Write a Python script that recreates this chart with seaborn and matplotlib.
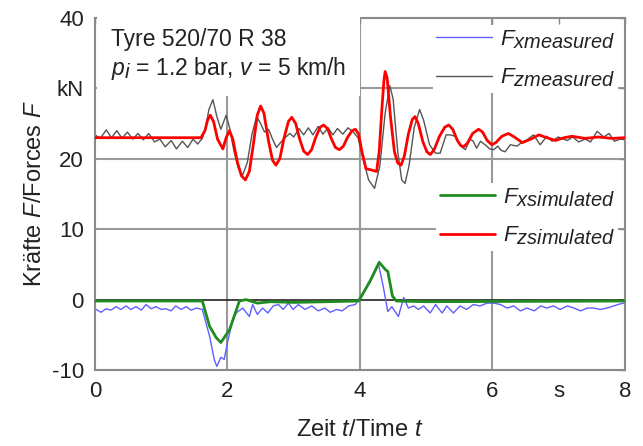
import numpy as np
import pandas as pd
import seaborn as sns
import matplotlib.pyplot as plt
import matplotlib._mathtext as mathtext_internal

t_fxm = [0.00, 0.09, 0.17, 0.24, 0.32, 0.39, 0.47, 0.54, 0.62, 0.70, 0.77, 0.85, 0.92, 1.00,
         1.07, 1.15, 1.22, 1.30, 1.38, 1.45, 1.53, 1.62, 1.73, 1.80, 1.84, 1.90, 1.95, 2.00,
         2.08, 2.13, 2.23, 2.33, 2.38, 2.45, 2.53, 2.61, 2.69, 2.77, 2.84, 2.92, 2.99, 3.07,
         3.17, 3.27, 3.37, 3.47, 3.55, 3.65, 3.73, 3.83, 3.93, 3.98, 4.15, 4.28, 4.35, 4.42,
         4.48, 4.58, 4.66, 4.73, 4.81, 4.88, 4.96, 5.06, 5.14, 5.24, 5.31, 5.41, 5.51, 5.61,
         5.71, 5.81, 5.92, 6.02, 6.12, 6.22, 6.32, 6.42, 6.52, 6.63, 6.73, 6.82, 6.92, 7.02,
         7.13, 7.23, 7.33, 7.43, 7.53, 7.63, 7.73, 7.83, 7.93, 8.00]
fxm = [-1.3, -1.8, -1.3, -1.5, -1.0, -1.4, -0.9, -1.4, -1.0, -1.5, -0.7, -1.3, -1.0, -1.4,
       -1.3, -1.6, -0.9, -1.4, -1.0, -1.5, -1.2, -1.4, -5.2, -8.5, -9.5, -8.2, -8.5, -6.1,
       -2.8, -1.9, -1.2, -2.4, -0.7, -2.1, -1.2, -1.9, -0.9, -0.7, -1.4, -0.5, -1.4, -0.7,
       -1.4, -0.9, -1.6, -1.2, -1.8, -1.4, -1.6, -0.9, -0.7, 0.0, 2.4, 5.0, 1.9, -1.7,
       -1.0, -2.4, 0.3, -1.2, -0.9, -1.4, -0.9, -1.9, -0.7, -1.9, -0.9, -1.9, -0.9, -1.4,
       -0.7, -0.9, -0.5, -0.5, -0.7, -1.2, -0.9, -1.6, -1.2, -1.6, -0.9, -1.2, -0.9, -1.4,
       -0.9, -1.2, -1.6, -1.2, -1.2, -1.4, -1.2, -0.9, -0.6, -0.5]

# Fz measured (grey)
t_fzm = [0.00, 0.08, 0.17, 0.25, 0.33, 0.41, 0.49, 0.57, 0.65, 0.73, 0.81, 0.90, 0.98, 1.06,
         1.15, 1.23, 1.32, 1.40, 1.48, 1.55, 1.62, 1.67, 1.72, 1.78, 1.84, 1.90, 1.98, 2.03,
         2.10, 2.17, 2.23, 2.30, 2.37, 2.44, 2.50, 2.56, 2.62, 2.68, 2.74, 2.80, 2.87, 2.94,
         3.00, 3.08, 3.15, 3.22, 3.29, 3.37, 3.44, 3.52, 3.59, 3.66, 3.74, 3.82, 3.90, 3.97,
         4.05, 4.13, 4.22, 4.30, 4.38, 4.45, 4.50, 4.57, 4.63, 4.68, 4.74, 4.82, 4.90, 4.96,
         5.05, 5.14, 5.21, 5.30, 5.36, 5.44, 5.52, 5.59, 5.66, 5.71, 5.76, 5.82, 5.90, 5.96,
         6.02, 6.08, 6.13, 6.19, 6.27, 6.37, 6.45, 6.52, 6.62, 6.72, 6.82, 6.90, 6.99, 7.13,
         7.21, 7.30, 7.40, 7.48, 7.58, 7.68, 7.76, 7.84, 7.93, 8.00]
fzm = [23.4, 22.9, 24.1, 23.0, 24.0, 22.9, 23.8, 22.8, 23.6, 22.7, 23.6, 22.4, 22.8, 21.7,
       22.6, 21.4, 22.5, 21.6, 22.8, 22.1, 22.9, 24.5, 27.0, 28.4, 26.0, 24.2, 26.2, 24.5,
       21.0, 18.5, 17.7, 19.5, 23.5, 26.0, 25.0, 23.8, 24.2, 22.8, 21.6, 22.3, 23.0, 23.6,
       23.1, 24.3, 23.4, 24.4, 23.4, 24.6, 23.5, 24.4, 23.4, 24.3, 23.5, 24.4, 23.8, 23.0,
       19.9, 17.0, 15.8, 19.0, 26.5, 30.4, 28.5, 21.0, 17.0, 16.5, 19.0, 24.5, 27.0, 25.5,
       22.0, 20.8, 20.8, 23.4, 23.4, 23.2, 21.8, 21.3, 22.8, 22.5, 21.5, 22.5, 21.9, 21.4,
       21.3, 21.8, 21.2, 21.0, 22.0, 21.8, 22.4, 22.7, 23.4, 22.0, 23.2, 22.5, 23.1, 22.6,
       23.1, 22.4, 22.8, 22.4, 23.9, 23.1, 23.6, 22.5, 22.8, 22.7]

# Fx simulated (green)
t_fxs = [0.00, 1.62, 1.73, 1.83, 1.90, 1.95, 2.03, 2.10, 2.18, 2.28, 2.45, 2.65, 3.00, 3.50,
         3.98, 4.15, 4.29, 4.38, 4.42, 4.49, 4.55, 5.00, 8.00]
fxs = [-0.2, -0.2, -3.8, -5.4, -6.1, -5.4, -4.3, -2.4, -0.2, 0.0, -0.5, -0.3, -0.4, -0.3,
       -0.2, 2.6, 5.3, 4.3, 4.0, 0.5, -0.2, -0.3, -0.2]

# Fz simulated (red)
t_fzs = [0.00, 1.60, 1.66, 1.70, 1.74, 1.79, 1.85, 1.93, 1.98, 2.03, 2.08, 2.15, 2.21, 2.27,
         2.33, 2.39, 2.45, 2.50, 2.55, 2.62, 2.68, 2.73, 2.79, 2.85, 2.92, 2.97, 3.03, 3.09,
         3.15, 3.21, 3.27, 3.33, 3.40, 3.45, 3.51, 3.57, 3.63, 3.69, 3.75, 3.81, 3.88, 3.93,
         3.98, 4.03, 4.09, 4.18, 4.25, 4.29, 4.33, 4.36, 4.38, 4.41, 4.46, 4.52, 4.57, 4.62,
         4.67, 4.73, 4.79, 4.83, 4.88, 4.95, 5.01, 5.06, 5.12, 5.20, 5.28, 5.34, 5.40, 5.47,
         5.52, 5.56, 5.62, 5.70, 5.79, 5.85, 5.92, 5.99, 6.05, 6.14, 6.24, 6.33, 6.45, 6.58,
         6.70, 6.82, 6.95, 7.08, 7.20, 7.40, 7.60, 7.80, 8.00]
fzs = [23.0, 23.0, 24.0, 25.5, 26.2, 25.3, 22.8, 21.4, 23.0, 24.0, 22.8, 19.5, 17.6, 17.0,
       18.2, 22.0, 26.2, 27.5, 26.5, 22.5, 19.8, 19.1, 20.0, 22.8, 25.3, 25.9, 25.0, 22.8,
       21.1, 20.6, 21.3, 23.0, 24.5, 24.8, 24.3, 22.8, 21.6, 21.3, 21.8, 23.0, 24.0, 24.2,
       23.5, 21.0, 18.6, 18.4, 18.2, 21.0, 27.0, 31.0, 32.4, 31.5, 26.0, 21.0, 19.4, 19.1,
       20.4, 23.5, 25.6, 26.0, 25.0, 22.4, 21.0, 20.6, 21.3, 23.2, 24.5, 24.8, 24.2, 22.6,
       21.9, 21.7, 22.2, 23.6, 24.2, 23.8, 22.6, 22.0, 22.3, 23.2, 23.6, 23.1, 22.3, 22.8,
       23.4, 23.0, 22.6, 23.0, 23.2, 22.9, 23.1, 22.9, 23.0]

x_ticks = [0, 2, 4, 6, 7, 8]
x_ticklabels = ["0", "2", "4", "6", "s", "8"]
y_ticks = [-10, 0, 10, 20, 30, 40]
y_ticklabels = ["-10", "0", "10", "20", "kN", "40"]

sns.set_style("white")
plt.rcParams["font.family"] = ["Liberation Sans", "DejaVu Sans"]
plt.rcParams["mathtext.fontset"] = "custom"
plt.rcParams["mathtext.rm"] = "Liberation Sans"
plt.rcParams["mathtext.it"] = "Liberation Sans:italic"
# subscripts in the original are nearly full size
mathtext_internal.SHRINK_FACTOR = 0.9

fig, ax = plt.subplots(figsize=(6.43, 4.46), dpi=100)
fig.subplots_adjust(left=0.1477, right=0.972, bottom=0.1704, top=0.9596)

grid_c = "#9a9a9a"
for yv in [10, 20, 30]:
    ax.axhline(yv, color=grid_c, lw=1.5, zorder=0.5)
for xv in [2, 4, 6]:
    ax.axvline(xv, color=grid_c, lw=1.5, zorder=0.5)
ax.axhline(0, color="#222222", lw=1.2, zorder=1)

df_fxm = pd.DataFrame({"t": t_fxm, "F": fxm})
df_fzm = pd.DataFrame({"t": t_fzm, "F": fzm})
df_fxs = pd.DataFrame({"t": t_fxs, "F": fxs})
df_fzs = pd.DataFrame({"t": t_fzs, "F": fzs})

line_kw = dict(ax=ax, solid_joinstyle="round", solid_capstyle="round")
sns.lineplot(data=df_fxm, x="t", y="F", color="#5f5fff", lw=1.0, zorder=2, **line_kw)
sns.lineplot(data=df_fzm, x="t", y="F", color="#555555", lw=1.0, zorder=2, **line_kw)
sns.lineplot(data=df_fxs, x="t", y="F", color="#1e8c1e", lw=2.0, zorder=3, **line_kw)
sns.lineplot(data=df_fzs, x="t", y="F", color="#ff0000", lw=2.0, zorder=3, **line_kw)
lines = ax.get_lines()[-4:]

ax.set_xlim(0, 8)
ax.set_ylim(-10, 40)
ax.set_xticks(x_ticks)
ax.set_xticklabels(x_ticklabels)
ax.set_yticks(y_ticks)
ax.set_yticklabels(y_ticklabels)
ax.tick_params(axis="both", direction="in", length=4, width=1, color="#888888",
               labelsize=16, labelcolor="#222222", pad=8, top=True, right=True)
for s in ax.spines.values():
    s.set_color("#8a8a8a")
    s.set_linewidth(1.5)

ax.set_xlabel("Zeit $t$/Time $t$", fontsize=17, color="#222222", labelpad=12)
ax.set_ylabel("Kräfte $F$/Forces $F$", fontsize=17, color="#222222", labelpad=4)

ax.text(0.03, 0.972, "Tyre 520/70 R 38\n$p_i$ = 1.2 bar, $v$ = 5 km/h",
        transform=ax.transAxes, ha="left", va="top", fontsize=16.5, color="#222222",
        linespacing=1.2, zorder=4,
        bbox=dict(boxstyle="square,pad=0.6", facecolor="white", edgecolor="none"))

leg_kw = dict(loc="upper right", fontsize=16, frameon=True, framealpha=1,
              edgecolor="none", fancybox=False, handlelength=2.5, handletextpad=0.36,
              labelspacing=0.72, borderpad=0.15, borderaxespad=0.3)
leg1 = ax.legend([lines[0], lines[1]], [r"$F_{xmeasured}$", r"$F_{zmeasured}$"],
                 bbox_to_anchor=(1.0, 1.0), **leg_kw)
for txt in leg1.get_texts():
    txt.set_color("#222222")
ax.add_artist(leg1)
leg2 = ax.legend([lines[2], lines[3]], [r"$F_{xsimulated}$", r"$F_{zsimulated}$"],
                 bbox_to_anchor=(1.0, 0.551), **leg_kw)
for txt in leg2.get_texts():
    txt.set_color("#222222")

fig.savefig("out.png", dpi=100)
